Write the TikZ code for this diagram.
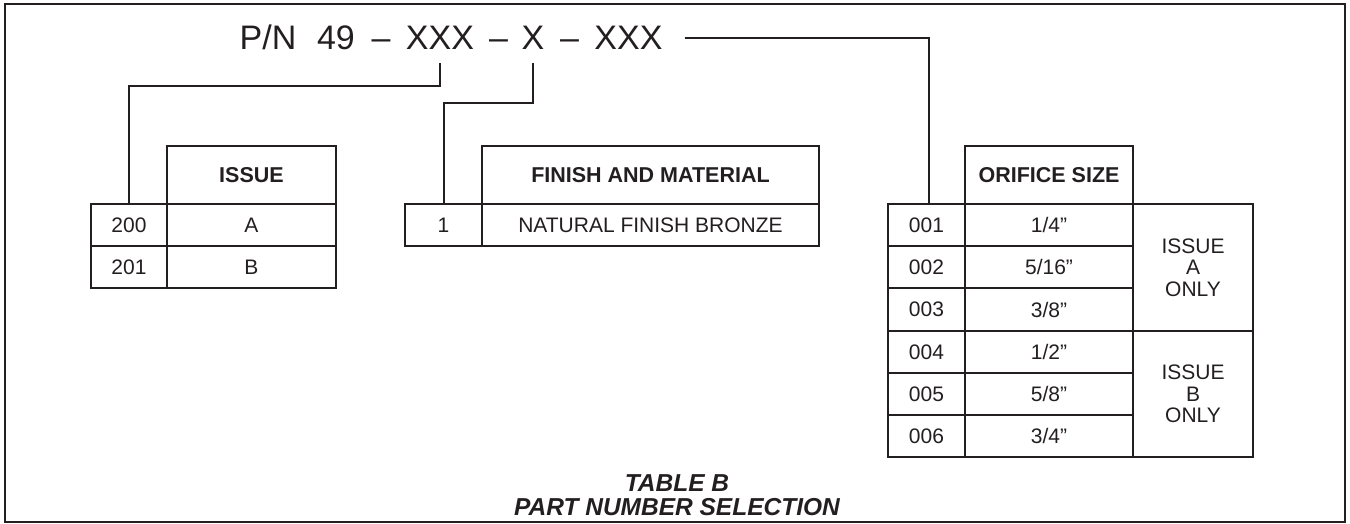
\documentclass[tikz,border=0pt]{standalone}
\usepackage{fontspec}
\setmainfont{Liberation Sans}
\definecolor{ink}{HTML}{231F20}
\newcommand\tabcell[7][]{\node[cellbox,#1, minimum width={(#5-#3)*1pt}, minimum height={(#6-#4)*1pt}] (#2) at (#3,#4) {#7};}
\begin{document}
\begin{tikzpicture}[x=1pt,y=-1pt,
  conn/.style={draw=ink, line width=2pt},
  cellbox/.style={draw=ink, line width=2pt, inner sep=0pt, anchor=north west, text=ink,
    font=\fontsize{21}{21.5}\selectfont, align=center},
  hdr/.style={font=\fontsize{21.5}{22}\selectfont\bfseries},
  pn/.style={inner sep=0pt, anchor=base, text=ink, font=\fontsize{34}{36}\selectfont},
  captxt/.style={inner sep=0pt, anchor=base, text=ink, font=\fontsize{24.5}{26}\selectfont\bfseries\itshape}]
\useasboundingbox (0,0) rectangle (1350,524);
\draw[draw=ink, line width=2.8pt] (5,4) rectangle (1345,522);

% part number
\node[pn] (pnA) at (268,50) {P/N};
\node[pn] (pnB) at (336,50) {49};
\node[pn] (d1) at (381,50) {–};
\node[pn] (xxx1) at (440,50) {XXX};
\node[pn] (d2) at (498.5,50) {–};
\node[pn] (x1) at (533,50) {X};
\node[pn] (d3) at (569.5,50) {–};
\node[pn] (xxx2) at (628.5,50) {XXX};

% issue table
\tabcell[hdr]{ihd}{166}{145}{335}{203}{ISSUE}
\tabcell{i200}{90}{203}{166}{245}{200}
\tabcell{iA}{166}{203}{335}{245}{A}
\tabcell{i201}{90}{245}{166}{287}{201}
\tabcell{iB}{166}{245}{335}{287}{B}

% finish table
\tabcell[hdr]{fhd}{481}{145}{818}{203}{FINISH AND MATERIAL}
\tabcell{f1}{404}{203}{481}{245}{1}
\tabcell{fN}{481}{203}{818}{245}{NATURAL FINISH BRONZE}

% orifice table
\tabcell[hdr]{ohd}{964}{145}{1132}{203}{ORIFICE SIZE}
\tabcell{o001}{887}{203}{964}{245}{001}
\tabcell{s001}{964}{203}{1132}{245}{1/4”}
\tabcell{o002}{887}{245}{964}{287}{002}
\tabcell{s002}{964}{245}{1132}{287}{5/16”}
\tabcell{o003}{887}{287}{964}{330}{003}
\tabcell{s003}{964}{287}{1132}{330}{3/8”}
\tabcell{o004}{887}{330}{964}{372}{004}
\tabcell{s004}{964}{330}{1132}{372}{1/2”}
\tabcell{o005}{887}{372}{964}{414}{005}
\tabcell{s005}{964}{372}{1132}{414}{5/8”}
\tabcell{o006}{887}{414}{964}{456}{006}
\tabcell{s006}{964}{414}{1132}{456}{3/4”}
\tabcell{issA}{1132}{203}{1252}{330}{ISSUE\\A\\ONLY}
\tabcell{issB}{1132}{330}{1252}{456}{ISSUE\\B\\ONLY}

% connectors
\draw[conn] ([yshift=-13pt]xxx1.south) -- ++(0,23) -| (i200.north);
\draw[conn] ([yshift=-13pt]x1.south) -- ++(0,40) -| (f1.north);
\draw[conn] ([xshift=22pt]xxx2.east) -| ([xshift=2.5pt]o001.north);

% caption
\node[captxt] (capA) at (677,491) {TABLE B};
\node[captxt] (capB) at (677,515) {PART NUMBER SELECTION};
\end{tikzpicture}
\end{document}
